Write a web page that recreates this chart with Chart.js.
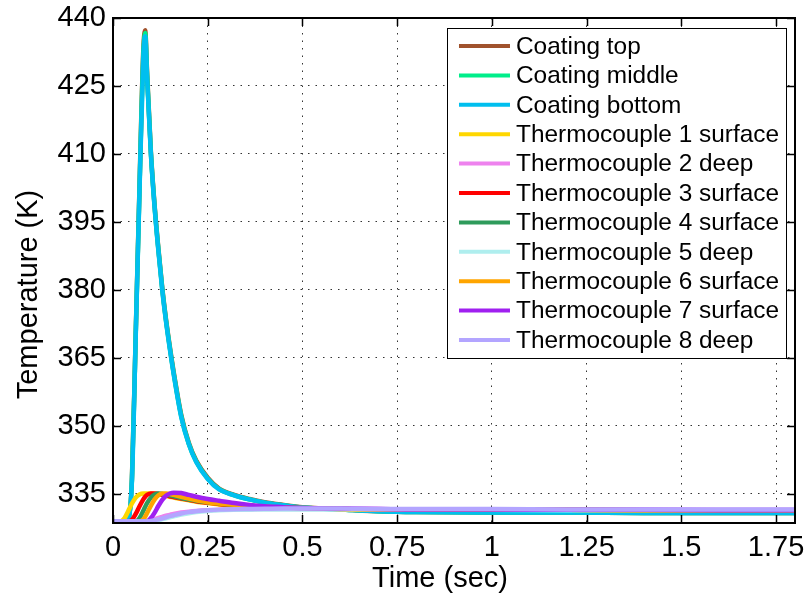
<!DOCTYPE html>
<html lang="en">
<head>
<meta charset="UTF-8">
<title>Temperature vs time</title>
<style>
  body { margin: 0; background: #fff; }
</style>
</head>
<body>
<canvas id="chart" width="807" height="598"></canvas>
<script src="https://cdn.jsdelivr.net/npm/chart.js"></script>
<script>
// time axis (sec), shared by every series
const time = [0, 0.02, 0.03, 0.04, 0.05, 0.06, 0.07, 0.08, 0.085, 0.09,
              0.1, 0.11, 0.12, 0.13, 0.14, 0.15, 0.16, 0.18, 0.2, 0.22,
              0.25, 0.28, 0.32, 0.36, 0.4, 0.45, 0.5, 0.6, 0.7, 0.8,
              1.0, 1.2, 1.4, 1.6, 1.8];

// temperatures (K)
const coatingTop = [329, 329, 329, 329.3, 338.5, 370.5, 403, 433, 437.3, 428,
                    410.5, 398.5, 389, 380.5, 373.5, 367.5, 362, 352.5, 346.3, 342.3,
                    338.6, 336.2, 334.8, 333.9, 333.2, 332.6, 332.1, 331.6, 331.2, 331.0,
                    330.9, 330.9, 330.8, 330.8, 330.8];
const coatingMiddle = [329, 329, 329, 329.3, 338.2, 370.2, 402.5, 432, 436.7, 427.5,
                       410.2, 398.2, 388.7, 380.2, 373.2, 367.2, 361.7, 352.2, 346.1, 342.1,
                       338.4, 336.1, 334.7, 333.8, 333.1, 332.5, 332.0, 331.6, 331.2, 331.0,
                       330.9, 330.9, 330.8, 330.8, 330.8];
const coatingBottom = [329, 329, 329, 329.3, 338, 370, 402, 431, 436, 427,
                       410, 398, 388.5, 380, 373, 367, 361.5, 352, 346, 342,
                       338.3, 336.0, 334.7, 333.8, 333.1, 332.5, 332.0, 331.6, 331.2, 331.0,
                       330.9, 330.9, 330.8, 330.8, 330.8];
const tc1 = [329, 329, 329.6, 331.2, 332.9, 334.2, 334.9, 335.1, 335.1, 335.1,
             335.1, 335.0, 334.9, 334.8, 334.6, 334.4, 334.2, 333.9, 333.6, 333.3,
             333.0, 332.7, 332.4, 332.2, 332.0, 331.9, 331.8, 331.7, 331.6, 331.6,
             331.5, 331.5, 331.4, 331.4, 331.4];
const tc2 = [329, 329, 329, 329, 329, 329, 329, 329, 329, 329.05,
             329.2, 329.45, 329.7, 329.95, 330.2, 330.4, 330.6, 330.9, 331.1, 331.25,
             331.4, 331.5, 331.6, 331.65, 331.7, 331.7, 331.7, 331.7, 331.7, 331.6,
             331.6, 331.5, 331.5, 331.5, 331.5];
const tc3 = [329, 329, 329, 329, 329.3, 330.6, 332.3, 333.8, 334.4, 334.8,
             335.1, 335.1, 335.0, 334.9, 334.7, 334.5, 334.3, 334.0, 333.7, 333.4,
             333.1, 332.8, 332.5, 332.3, 332.1, 331.9, 331.8, 331.7, 331.6, 331.6,
             331.5, 331.5, 331.4, 331.4, 331.4];
const tc4 = [329, 329, 329, 329, 329, 329, 329.7, 331.3, 332.2, 333.0,
             334.2, 334.9, 335.1, 335.0, 334.9, 334.7, 334.5, 334.1, 333.8, 333.5,
             333.2, 332.9, 332.6, 332.3, 332.1, 332.0, 331.9, 331.7, 331.6, 331.6,
             331.5, 331.5, 331.4, 331.4, 331.4];
const tc5 = [329, 329, 329, 329, 329, 329, 329, 329, 329, 329,
             329.02, 329.1, 329.25, 329.45, 329.65, 329.85, 330.05, 330.45, 330.75, 331.0,
             331.25, 331.4, 331.5, 331.55, 331.6, 331.6, 331.6, 331.6, 331.5, 331.5,
             331.5, 331.4, 331.4, 331.4, 331.4];
const tc6 = [329, 329, 329, 329, 329, 329, 329, 329.4, 330.0, 330.8,
             332.4, 333.8, 334.7, 335.1, 335.1, 335.0, 334.8, 334.4, 334.0, 333.6,
             333.2, 332.9, 332.6, 332.4, 332.2, 332.0, 331.9, 331.7, 331.6, 331.6,
             331.5, 331.5, 331.4, 331.4, 331.4];
const tc7 = [329, 329, 329, 329, 329, 329, 329, 329, 329, 329,
             329.7, 330.9, 332.4, 333.7, 334.6, 335.1, 335.3, 335.2, 334.8, 334.4,
             333.9, 333.5, 333.0, 332.6, 332.3, 332.1, 331.9, 331.8, 331.7, 331.6,
             331.6, 331.5, 331.5, 331.4, 331.4];
const tc8 = [329, 329, 329, 329, 329, 329, 329, 329, 329, 329,
             329.05, 329.2, 329.4, 329.6, 329.85, 330.1, 330.3, 330.7, 331.0, 331.2,
             331.4, 331.55, 331.65, 331.7, 331.75, 331.8, 331.8, 331.8, 331.7, 331.7,
             331.7, 331.6, 331.6, 331.6, 331.6];

const xTicks = [0, 0.25, 0.5, 0.75, 1, 1.25, 1.5, 1.75];
const yTicks = [335, 350, 365, 380, 395, 410, 425, 440];
const xTitle = 'Time (sec)';
const yTitle = 'Temperature (K)';

const series = [
  { label: 'Coating top', color: '#a0522d', values: coatingTop },
  { label: 'Coating middle', color: '#00ee8a', values: coatingMiddle },
  { label: 'Coating bottom', color: '#00bfef', values: coatingBottom },
  { label: 'Thermocouple 1 surface', color: '#ffd700', values: tc1 },
  { label: 'Thermocouple 2 deep', color: '#ee82ee', values: tc2 },
  { label: 'Thermocouple 3 surface', color: '#ff0000', values: tc3 },
  { label: 'Thermocouple 4 surface', color: '#2e9b5b', values: tc4 },
  { label: 'Thermocouple 5 deep', color: '#afeeee', values: tc5 },
  { label: 'Thermocouple 6 surface', color: '#ffa500', values: tc6 },
  { label: 'Thermocouple 7 surface', color: '#a020f0', values: tc7 },
  { label: 'Thermocouple 8 deep', color: '#b3a5ff', values: tc8 }
];

const FONT = '"Liberation Sans", Arial, Helvetica, sans-serif';
Chart.defaults.font.family = FONT;
Chart.defaults.color = '#000';

// box round the plot, inward ticks on all four sides, axis titles
const framePlugin = {
  id: 'frame',
  afterDatasetsDraw(chart) {
    const { ctx, chartArea: a, scales } = chart;
    ctx.save();
    ctx.strokeStyle = '#000';
    ctx.lineWidth = 1.5;
    ctx.beginPath();
    xTicks.forEach(v => {
      const x = Math.round(scales.x.getPixelForValue(v)) + 0.5;
      ctx.moveTo(x, a.bottom); ctx.lineTo(x, a.bottom - 8);
      ctx.moveTo(x, a.top); ctx.lineTo(x, a.top + 8);
    });
    yTicks.forEach(v => {
      const y = Math.round(scales.y.getPixelForValue(v)) + 0.5;
      ctx.moveTo(a.left, y); ctx.lineTo(a.left + 8, y);
      ctx.moveTo(a.right, y); ctx.lineTo(a.right - 8, y);
    });
    ctx.stroke();
    ctx.lineWidth = 2;
    ctx.strokeRect(a.left, a.top, a.right - a.left, a.bottom - a.top);

    // axis titles (placed like the original figure, a bit off centre)
    ctx.fillStyle = '#000';
    ctx.font = '29px ' + FONT;
    ctx.textAlign = 'center';
    ctx.textBaseline = 'middle';
    ctx.fillText(xTitle, (a.left + a.right) / 2 - 14, 579);
    ctx.translate(29, (a.top + a.bottom) / 2 + 24);
    ctx.rotate(-Math.PI / 2);
    ctx.fillText(yTitle, 0, 0);
    ctx.restore();
  }
};

// legend box inside the top right of the plot
const boxLegend = {
  id: 'boxLegend',
  afterDraw(chart) {
    const { ctx, chartArea: a } = chart;
    const sets = chart.data.datasets;
    ctx.save();
    ctx.font = '24.4px ' + FONT;
    const textW = Math.max(...sets.map(d => ctx.measureText(d.label).width));
    const rowH = 29.4;
    const w = 69 + textW + 7;
    const h = rowH * (sets.length - 1) + 36;
    const right = a.right - 9;
    const left = right - w;
    const top = a.top + 10;
    ctx.fillStyle = '#fff';
    ctx.fillRect(left, top, w, h);
    ctx.strokeStyle = '#000';
    ctx.lineWidth = 1;
    ctx.strokeRect(Math.round(left) + 0.5, Math.round(top) + 0.5, Math.round(w), Math.round(h));
    ctx.textBaseline = 'middle';
    ctx.textAlign = 'left';
    sets.forEach((d, i) => {
      const y = top + 18 + i * rowH;
      ctx.strokeStyle = d.borderColor;
      ctx.lineWidth = 4;
      ctx.beginPath();
      ctx.moveTo(left + 12, y);
      ctx.lineTo(left + 63, y);
      ctx.stroke();
      ctx.fillStyle = '#000';
      ctx.fillText(d.label, left + 69, y + 1);
    });
    ctx.restore();
  }
};

new Chart(document.getElementById('chart'), {
  type: 'line',
  data: {
    datasets: series.map((s, i) => ({
      label: s.label,
      data: time.map((t, k) => ({ x: t, y: s.values[k] })),
      borderColor: s.color,
      backgroundColor: s.color,
      borderWidth: 4.5,
      pointRadius: 0,
      fill: false,
      cubicInterpolationMode: 'monotone',
      order: series.length - i
    }))
  },
  options: {
    responsive: false,
    animation: false,
    layout: { padding: { left: 0, top: 18, right: 12, bottom: 0 } },
    plugins: {
      legend: { display: false },
      tooltip: { enabled: false }
    },
    scales: {
      x: {
        type: 'linear',
        min: 0,
        max: 1.8,
        afterBuildTicks: axis => { axis.ticks = xTicks.map(v => ({ value: v })); },
        afterFit: scale => {
          scale.height = 75;
          scale.paddingLeft = 0;
          scale.paddingRight = 0;
        },
        ticks: {
          font: { size: 29 },
          padding: 8,
          maxRotation: 0,
          autoSkip: false,
          callback: v => String(v)
        },
        grid: { color: '#333', lineWidth: 1, drawTicks: false },
        border: { display: false, dash: [1.5, 6] }
      },
      y: {
        min: 328.6,
        max: 440,
        afterBuildTicks: axis => { axis.ticks = yTicks.map(v => ({ value: v })); },
        afterFit: scale => {
          scale.width = 113;
          scale.paddingTop = 0;
          scale.paddingBottom = 0;
        },
        ticks: {
          font: { size: 29 },
          padding: 7,
          autoSkip: false
        },
        grid: { color: '#333', lineWidth: 1, drawTicks: false },
        border: { display: false, dash: [1.5, 6] }
      }
    }
  },
  plugins: [framePlugin, boxLegend]
});
</script>
</body>
</html>
